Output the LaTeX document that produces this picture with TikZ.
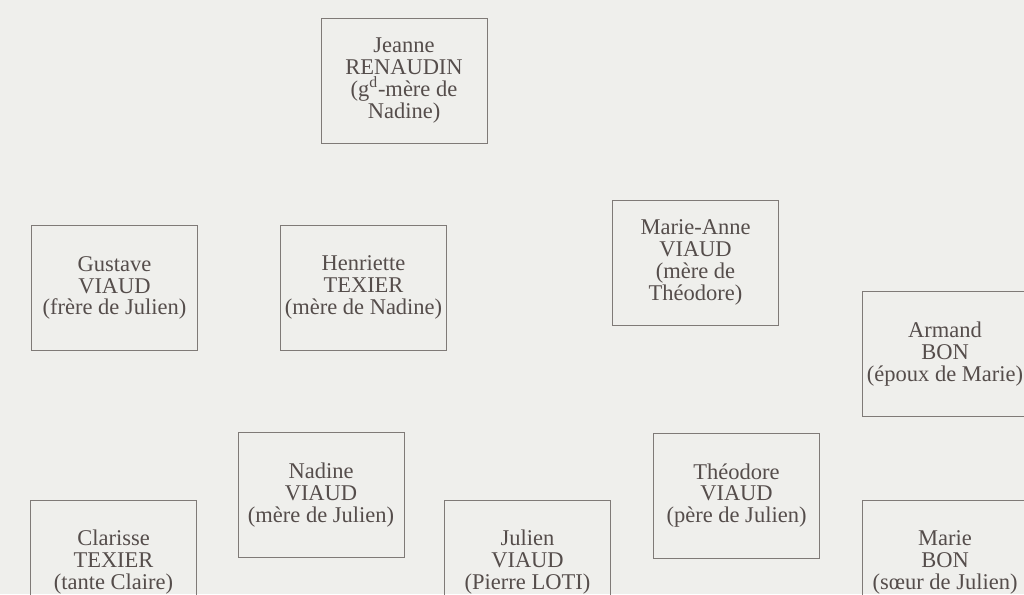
\documentclass[tikz,border=0pt]{standalone}
\usepackage{fontspec}
\setmainfont{Liberation Serif}
\definecolor{papier}{HTML}{EFEFEC}
\definecolor{encre}{HTML}{554D4B}
\definecolor{trait}{HTML}{7F7A77}
\begin{document}
\begin{tikzpicture}[x=0.025cm,y=-0.025cm,
  personne/.style={draw=trait,line width=0.6pt,text=encre,align=center,
    minimum width=4.15cm,minimum height=3.125cm,inner sep=0pt,
    font=\fontsize{16}{15.6}\selectfont}]
\clip (0,0) rectangle (1024,594);
\fill[papier] (0,0) rectangle (1024,594);
\node[personne] (jeanne) at (404,80.5) {Jeanne\\RENAUDIN\\(g\textsuperscript{d}-mère de\\Nadine)};
\node[personne] (gustave) at (114.5,288) {Gustave\\VIAUD\\(frère de Julien)};
\node[personne] (henriette) at (363.5,287.5) {Henriette\\TEXIER\\(mère de Nadine)};
\node[personne] (marieanne) at (695.5,262.5) {Marie-Anne\\VIAUD\\(mère de\\Théodore)};
\node[personne] (armand) at (945,354) {Armand\\BON\\(époux de Marie)};
\node[personne] (nadine) at (321,495) {Nadine\\VIAUD\\(mère de Julien)};
\node[personne] (theodore) at (736.5,495.5) {Théodore\\VIAUD\\(père de Julien)};
\node[personne] (clarisse) at (113.5,562.5) {Clarisse\\TEXIER\\(tante Claire)};
\node[personne] (julien) at (527.5,562.5) {Julien\\VIAUD\\(Pierre LOTI)};
\node[personne] (marie) at (945,562.5) {Marie\\BON\\(sœur de Julien)};
\end{tikzpicture}
\end{document}
